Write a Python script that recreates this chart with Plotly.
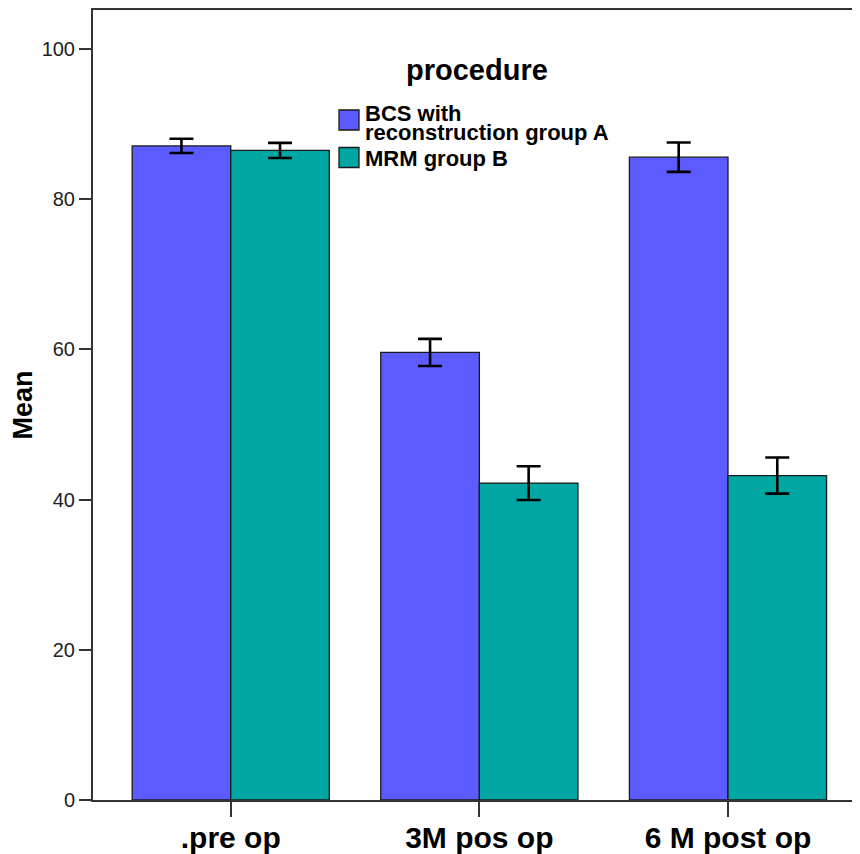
import plotly.graph_objects as go

categories = [".pre op", "3M pos op", "6 M post op"]
bcs_mean = [87.1, 59.6, 85.6]
bcs_err = [0.95, 1.8, 1.95]
mrm_mean = [86.5, 42.2, 43.2]
mrm_err = [1.0, 2.25, 2.4]
series_names = ["BCS with reconstruction group A", "MRM group B"]
y_ticks = [0, 20, 40, 60, 80, 100]

BLUE = "#5b5bff"
TEAL = "#00a6a2"
FONT = "Liberation Sans, Arial, sans-serif"

# page body has a default 8px margin; figure sized to fill the remaining window
OFF = 8
W, H = 860 - OFF, 854 - OFF
L, R, T = 93 - OFF, 0, 10 - OFF
B = H - (800 - OFF)
PW, PH = W - L - R, H - T - B


def px(x):
    """window x pixel -> paper coordinate"""
    return (x - OFF - L) / PW


def py(y):
    """window y pixel -> paper coordinate"""
    return (H - B - (y - OFF)) / PH


fig = go.Figure()
for name, vals, errs, col in [
    (series_names[0], bcs_mean, bcs_err, BLUE),
    (series_names[1], mrm_mean, mrm_err, TEAL),
]:
    fig.add_trace(go.Bar(
        x=categories, y=vals, name=name,
        marker=dict(color=col, line=dict(color="#1a1a1a", width=1.3)),
        error_y=dict(type="data", array=errs, visible=True,
                     color="black", thickness=2.6, width=12),
        showlegend=False,
    ))

shapes = []
annotations = []
# legend drawn as shapes + text
for (y0, y1), col in [((110, 130), BLUE), ((147.5, 167.5), TEAL)]:
    shapes.append(dict(type="rect", xref="paper", yref="paper",
                       x0=px(339), x1=px(359), y0=py(y1), y1=py(y0),
                       fillcolor=col, line=dict(color="#1a1a1a", width=1.3)))

annotations.append(dict(text="procedure", xref="paper", yref="paper",
                        x=px(477), y=py(79 - 0.32 * 29), xanchor="center", yanchor="middle",
                        showarrow=False,
                        font=dict(family=FONT, size=29, color="black", weight="bold")))
for txt, base in [("BCS with", 121), ("reconstruction group A", 140), ("MRM group B", 166)]:
    annotations.append(dict(text=txt, xref="paper", yref="paper",
                            x=px(363), y=py(base - 0.32 * 22), xanchor="left", yanchor="middle",
                            showarrow=False,
                            font=dict(family=FONT, size=22, color="black", weight="bold")))

fig.update_layout(
    width=W, height=H,
    margin=dict(l=L, r=R, t=T, b=B, autoexpand=False),
    paper_bgcolor="white", plot_bgcolor="white",
    barmode="group", bargap=0.207, bargroupgap=0,
    shapes=shapes, annotations=annotations,
    font=dict(family=FONT, color="black"),
)
fig.update_xaxes(
    range=[-0.554, 2.531], showgrid=False, automargin=False,
    showline=True, linecolor="#333333", linewidth=2, mirror=True,
    ticks="outside", ticklen=15, tickwidth=2, tickcolor="#333333",
    ticklabelstandoff=-5,
    tickfont=dict(family=FONT, size=30, color="black", weight="bold"),
)
fig.update_yaxes(
    range=[0, 105.2], tickvals=y_ticks, showgrid=False, zeroline=False,
    automargin=False,
    showline=True, linecolor="#333333", linewidth=2,
    ticks="outside", ticklen=12, tickwidth=2, tickcolor="#333333",
    tickfont=dict(family=FONT, size=20, color="#222222"),
    title=dict(text="Mean", standoff=12,
               font=dict(family=FONT, size=27, color="black", weight="bold")),
)

fig.write_html("out.html")
